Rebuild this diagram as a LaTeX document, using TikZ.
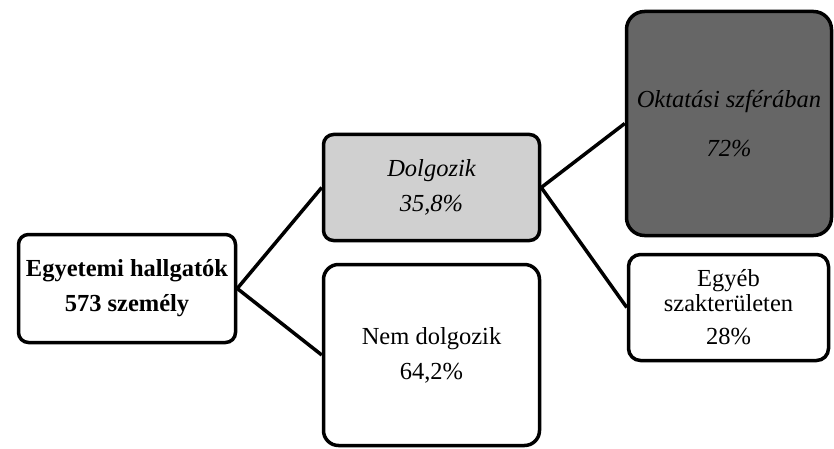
\documentclass[tikz,border=0pt]{standalone}
\usepackage{fontspec}
\setmainfont{Liberation Serif}
\definecolor{lightbox}{HTML}{D0D0D0}
\definecolor{darkbox}{HTML}{666666}
\tikzset{
  box/.style={draw=black, line width=3.5pt, fill=white, align=center, inner sep=0pt,
    font=\fontsize{24.5}{35}\selectfont},
  conn/.style={draw=black, line width=3.5pt},
}
\begin{document}
\begin{tikzpicture}[x=1pt,y=-1pt]
\useasboundingbox (0,0) rectangle (834,449);
\node[box, rounded corners=10pt, minimum width=217pt, minimum height=108pt] (root) at (127,288.5)
  {\bfseries Egyetemi hallgatók\\\bfseries 573 személy};
\node[box, rounded corners=10pt, fill=lightbox, minimum width=216pt, minimum height=106pt] (dol) at (431.5,187.5)
  {\itshape Dolgozik\\\itshape 35,8\%};
\node[box, rounded corners=15pt, minimum width=216pt, minimum height=181pt] (nem) at (431.5,355)
  {Nem dolgozik\\64,2\%};
\node[box, rounded corners=18pt, fill=darkbox, minimum width=205pt, minimum height=224pt] (okt) at (729,123.5)
  {\itshape Oktatási szférában\\[14pt]\itshape 72\%};
\node[box, rounded corners=12pt, minimum width=200pt, minimum height=106pt, font=\fontsize{24.5}{25}\selectfont] (egy) at (728.5,307.5)
  {Egyéb\\szakterületen\\[8pt]28\%};
\draw[conn] (root.east) -- (dol.west);
\draw[conn] (root.east) -- (nem.west);
\draw[conn] (dol.east) -- (okt.west);
\draw[conn] (dol.east) -- (egy.west);
\end{tikzpicture}
\end{document}
